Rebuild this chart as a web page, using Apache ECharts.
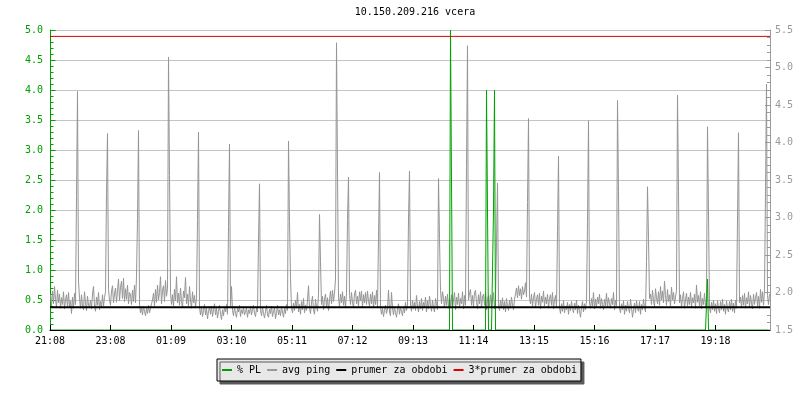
<!DOCTYPE html>
<html>
<head>
<meta charset="utf-8">
<script src="https://cdn.jsdelivr.net/npm/echarts@6/dist/echarts.min.js"></script>
<style>
html,body{margin:0;padding:0;background:#fff;}
#c{width:800px;height:400px;}
</style>
</head>
<body>
<div id="c"></div>
<script>
// x-axis tick labels (one every 60.5 samples, 2 min per sample)
const timeLabels = ['21:08','23:08','01:09','03:10','05:11','07:12','09:13','11:14','13:15','15:16','17:17','19:18'];

// avg ping [ms], one value per 2-minute sample (720 samples = 24 h), right axis
const pingValues = [
// 0-39
1.97,1.82,2.02,1.85,2.08,1.91,1.80,2.03,1.86,1.98, 1.79,1.93,1.84,2.01,1.78,1.90,1.97,1.81,2.00,1.80,
1.89,1.72,1.94,1.79,1.99,1.84, 3.28,4.68,2.15, 1.93,1.79,1.97,1.82,1.77,2.01,1.86,1.76,1.95,1.83,1.80,
// 40-79
1.90,1.78,1.98,2.08,1.82,1.75,1.94,1.83,2.00,1.77, 1.88,1.80,1.97,1.82,1.93,2.01, 3.32,4.12,
2.04,1.90,1.83,2.02,2.09,1.86,1.98,2.06,1.87,2.03,2.18,1.89, 2.07,2.15,1.92,2.19,1.88,2.05,1.91,2.10,1.85,2.00,
// 80-119
1.97,1.84,2.03,1.88,2.10,1.86, 2.21,2.99,4.16,
1.84,1.73,1.80,1.70,1.82,1.75,1.69,1.79,1.72,1.83,1.73,1.79,1.85,
1.90,1.99,1.82,2.04,1.87,2.10,1.90,2.00,2.21,1.85,2.03,2.09,1.88,2.16,1.95,2.05, 5.14,3.56,
// 120-159
2.00,1.84,1.97,1.82,2.04,1.89,2.21,1.86,1.99,1.83, 2.06,1.88,1.80,2.02,1.93,2.20,1.85,1.98,1.82,2.08, 1.90,1.79,2.01,1.86,1.96,1.81,1.92,
2.96,4.14, 1.80,1.70,1.82,1.68,1.76,1.84,1.70,1.79,1.65,1.75,1.81,
// 160-199
1.71,1.82,1.68,1.77,1.85,1.70,1.79,1.66,1.75,1.83, 1.71,1.64,1.77,1.69,1.81,1.74,1.84,1.71,
2.88,3.98, 1.80, 2.08,
1.76,1.69,1.81,1.72,1.67,1.79,1.74,1.83,1.68,1.77, 1.72,1.81,1.70,1.75,1.79,1.67,1.77,1.72,
// 200-239
1.81,1.70,1.77,1.83,1.72,1.68,1.79,1.74, 2.69,3.45,
1.77,1.69,1.81,1.72,1.66,1.75,1.83,1.70,1.67,1.78, 1.72,1.82,1.68,1.75,1.80,1.65,1.73,1.83,1.70,1.77, 1.69,1.81,1.74,1.67,1.79,1.72,1.84,1.76,
4.02,2.95,
// 240-279
2.19,
1.80,1.73,1.86,1.76,1.90,1.79,2.00,1.74,1.84,1.71, 1.88,1.77,1.92,1.73,1.83,1.76,1.90,2.09,1.79,1.72, 1.86,1.95,1.77,1.71,1.91,1.81,1.75,1.97,
3.04,2.41, 1.84,1.95,1.77,1.91,1.98,1.80,1.93,1.76,1.90,
// 280-319
2.02,1.85,2.03,1.88,1.99, 2.18,5.33,3.62, 1.93,1.82,1.98,1.86,2.01,1.83,1.95,1.80,1.99, 2.96,3.54,
1.96,1.84,2.00,1.87,1.80,1.98,2.03,1.85,1.95,1.82, 2.01,1.89,2.02,1.81,1.97,1.86,2.00,1.84,2.02,1.88,1.82,
// 320-359
1.98,1.85,2.01,1.80,1.96,1.84,2.03,1.81, 2.72,3.60,
1.80,1.71,1.79,1.68,1.76,1.83,1.72,1.78,2.03,1.74, 1.69,2.00,1.79,1.70,1.81,1.73,1.67,1.78,1.85,1.71, 1.80,1.75,1.69,1.81,1.73,1.87,1.76,1.83,
2.98,3.62,
// 360-399
1.83,1.75,1.90,1.78,1.87,1.76,1.96,1.82,1.74,1.88, 1.78,1.92,1.76,1.87,1.80,1.94,1.74,1.89,1.78,1.95, 1.83,1.75,1.90,1.80,1.74,1.92,1.85,1.77,
3.52,2.72, 2.03,1.85,2.01,1.93,1.80,1.95,1.83,1.98,1.79,1.92,
// 400-439
1.82,1.97,1.79,1.90,2.00,1.77,1.94,1.84,1.99,1.80, 1.92,1.85,2.01,1.78,1.96,1.83, 3.68,5.29,
1.90,1.99,2.04,1.83,1.96,1.81,2.00,2.03,1.87,1.78, 1.97,1.85,2.01,1.80,1.94,1.98,1.83,2.00,1.77,1.91, 1.96,1.82,
// 440-479
1.97,1.80,1.90,2.00,1.78,1.93, 2.67,3.46,
1.85,1.76,1.90,1.79,1.93,1.77,1.88,1.74,1.92,1.81, 1.76,1.90,1.79,1.94,1.83,1.77,1.91,
1.98,2.06,1.93,2.09,1.96,2.05,1.91,2.08,1.97,2.02,2.13,1.94, 3.20,4.32, 1.93,
// 480-519
1.85,1.98,1.82,1.93,2.00,1.80,1.91,1.97,1.83,1.99, 1.78,1.95,1.87,2.02,1.82,1.94,1.85,1.98,1.79,1.92, 1.97,1.83,2.00,1.78,1.90,1.96,1.81,
2.81,3.82, 1.80,1.72,1.85,1.75,1.89,1.73,1.82,1.77,1.87,1.71,1.84,
// 520-559
1.76,1.88,1.79,1.73,1.86,1.77,1.90,1.72,1.83,1.76, 1.67,1.80,1.88,1.74,1.85,1.77,1.89, 2.95,4.29,
1.86,1.79,1.92,1.82,2.00,1.78,1.91,1.81,1.94,1.85, 1.98,1.79,1.92,1.84,1.77,1.91,1.82,1.99,1.80,1.93,1.85,
// 560-599
1.79,1.92,1.84,2.00,1.77,1.90,1.82, 4.56,3.35,
1.79,1.73,1.85,1.77,1.89,1.71,1.83,1.75,1.88,1.79, 1.73,1.91,1.80,1.67,1.77,1.86,1.73,1.89,1.79,1.75, 1.88,1.71,1.84,1.77,1.91,1.80,1.74,
2.41,3.41,2.72, 1.92,
// 600-639
1.98,1.84,2.03,1.89,1.81,2.05,1.93,1.85,2.01,1.83, 2.08,1.90,2.02,1.86,2.15,1.96,1.83,2.04,1.88,1.97, 1.82,2.07,1.90,2.00,1.85,1.94,2.03,
4.63,3.35, 1.86,1.97,1.81,1.92,2.01,1.79,1.90,1.99,1.82,1.94,1.84,
// 640-679
2.00,1.81,1.93,1.86,1.98,1.79,2.10,1.87,1.96,1.82, 2.01,1.78,1.92,1.84,1.99,1.81,1.94, 4.21,3.06,
1.80,1.73,1.87,1.77,1.90,1.75,1.85,1.72,1.89,1.79, 1.73,1.88,1.77,1.91,1.75,1.84,1.71,1.89,1.78,1.74,1.88,
// 680-719
1.77,1.91,1.75,1.86,1.73,1.90,1.79, 2.98,4.13,
1.86,1.94,1.80,1.96,1.83,1.99,1.79,1.93,1.85,2.01, 1.81,1.96,1.86,1.78,1.98,1.84,1.93,2.00,1.82,1.95, 1.79,2.04,1.87,2.01,1.83,2.03,
3.35,4.78, 1.96,1.84,1.98
];

// packet loss [%] (left axis): non-zero samples only, zero elsewhere
const plSamples = [400, 401, 436, 437, 443, 444, 657];
const plValues  = [5.0, 2.5, 4.0, 2.0, 2.0, 4.0, 0.85];

// period mean of ping [ms]
const meanPing = 1.805;

const mono = 'DejaVu Sans Mono';
const nSamples = 720;

const pingData = pingValues.map((v, i) => [i, v]);
const plFull = new Array(nSamples).fill(0);
plSamples.forEach((s, k) => { plFull[s] = plValues[k]; });
const plData = plFull.map((v, i) => [i, v]);
const xMin = -0.5, xMax = nSamples - 0.5;

const chart = echarts.init(document.getElementById('c'), null, {renderer: 'canvas'});
chart.setOption({
  animation: false,
  backgroundColor: '#ffffff',
  title: {
    text: '10.150.209.216 vcera',
    left: 410, top: 2, textAlign: 'center',
    textStyle: {fontFamily: mono, fontSize: 10, fontWeight: 'normal', color: '#000'}
  },
  grid: {left: 50, right: 30, top: 30, bottom: 70, containLabel: false},
  legend: {
    data: ['% PL', 'avg ping', 'prumer za obdobi', '3*prumer za obdobi'],
    left: 217, top: 359,
    icon: 'rect', itemWidth: 10, itemHeight: 2, itemGap: 6,
    padding: [6, 4, 6, 5],
    backgroundColor: '#e8e8e8', borderColor: '#000', borderWidth: 1,
    shadowColor: '#5a5a5a', shadowOffsetX: 3, shadowOffsetY: 3, shadowBlur: 0,
    selectedMode: false,
    textStyle: {fontFamily: mono, fontSize: 10, color: '#000'}
  },
  xAxis: {
    type: 'value', min: xMin, max: xMax, interval: 60.5, z: 10,
    axisLine: {show: true, lineStyle: {color: '#000', width: 1}},
    axisTick: {show: true, inside: true, length: 5, lineStyle: {color: '#000'}},
    axisLabel: {
      fontFamily: mono, fontSize: 10, color: '#000', margin: 6,
      showMaxLabel: false,
      formatter: function (v) {
        const k = Math.round((v - xMin) / 60.5);
        return timeLabels[k] || '';
      }
    },
    splitLine: {show: false}
  },
  yAxis: [
    {
      type: 'value', min: 0, max: 5, interval: 0.5, position: 'left',
      axisLine: {show: true, lineStyle: {color: '#00a000'}},
      axisTick: {show: true, inside: true, length: 5, lineStyle: {color: '#00a000'}},
      minorTick: {show: true, splitNumber: 5, length: 3, lineStyle: {color: '#00a000'}},
      axisLabel: {fontFamily: mono, fontSize: 10, color: '#00a000', margin: 7,
        formatter: v => v.toFixed(1)},
      splitLine: {show: true, lineStyle: {color: '#c4c4c4', width: 1}}
    },
    {
      type: 'value', min: 1.5, max: 5.5, interval: 0.5, position: 'right',
      axisLine: {show: true, lineStyle: {color: '#9a9a9a'}},
      axisTick: {show: true, inside: true, length: 5, lineStyle: {color: '#9a9a9a'}},
      minorTick: {show: true, splitNumber: 5, length: 3, lineStyle: {color: '#9a9a9a'}},
      axisLabel: {fontFamily: mono, fontSize: 10, color: '#9a9a9a', margin: 5,
        formatter: v => v.toFixed(1)},
      splitLine: {show: false}
    }
  ],
  series: [
    {
      name: 'avg ping', type: 'line', yAxisIndex: 1, step: 'end',
      data: pingData, symbol: 'none', color: '#999999', sampling: null,
      lineStyle: {width: 1, color: '#959595'}, z: 2
    },
    {
      name: '% PL', type: 'line', yAxisIndex: 0, step: 'end',
      data: plData, symbol: 'none', color: '#00a000',
      lineStyle: {width: 1, color: '#00a000'}, z: 3
    },
    {
      name: 'prumer za obdobi', type: 'line', yAxisIndex: 1,
      data: [[xMin, meanPing], [xMax, meanPing]], symbol: 'none', color: '#000000',
      lineStyle: {width: 2, color: '#000000'}, z: 4
    },
    {
      name: '3*prumer za obdobi', type: 'line', yAxisIndex: 1,
      data: [[xMin, 3 * meanPing], [xMax, 3 * meanPing]], symbol: 'none', color: '#e00000',
      lineStyle: {width: 1, color: '#e00000'}, z: 4
    }
  ]
});
</script>
</body>
</html>
